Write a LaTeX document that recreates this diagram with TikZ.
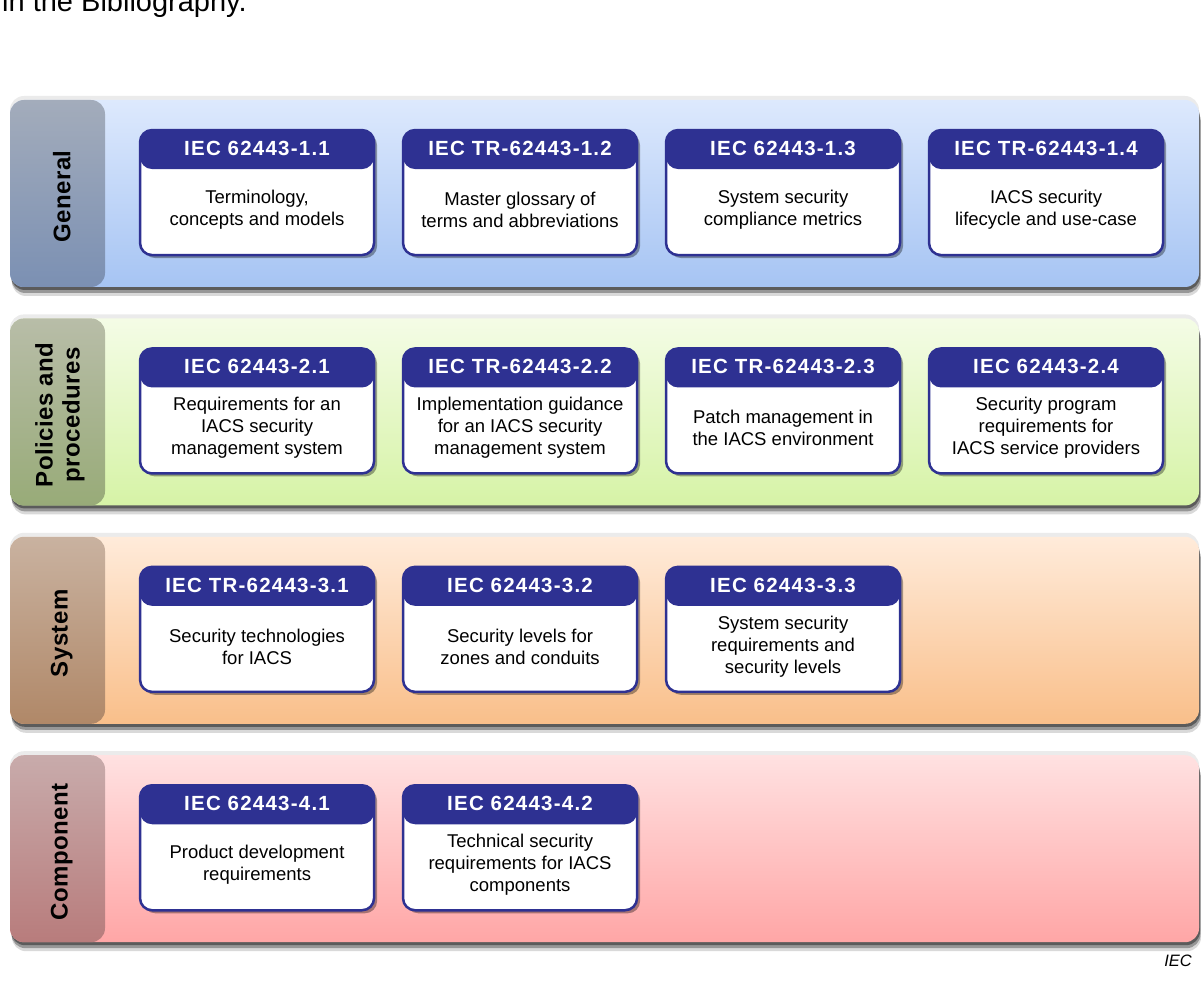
\documentclass[tikz,border=0pt]{standalone}
\usepackage{fontspec}
\setmainfont{Liberation Sans}
\newfontfamily\headfont{Liberation Sans}[LetterSpace=6]
\newfontfamily\bandfont{Liberation Sans}[LetterSpace=2]
\usetikzlibrary{positioning,shadows}

\definecolor{iecblue}{HTML}{2E3192}
\definecolor{gentop}{HTML}{DDE9FD}
\definecolor{genbot}{HTML}{A6C4F3}
\definecolor{gencoltop}{HTML}{A3ACBB}
\definecolor{gencolbot}{HTML}{7B90B3}
\definecolor{poltop}{HTML}{F4FCE6}
\definecolor{polbot}{HTML}{D6F3A6}
\definecolor{polcoltop}{HTML}{B8BDA8}
\definecolor{polcolbot}{HTML}{98AB78}
\definecolor{systop}{HTML}{FFEBDA}
\definecolor{sysbot}{HTML}{F9BF8A}
\definecolor{syscoltop}{HTML}{C9B2A0}
\definecolor{syscolbot}{HTML}{B08868}
\definecolor{comtop}{HTML}{FFE1E1}
\definecolor{combot}{HTML}{FFA6A6}
\definecolor{comcoltop}{HTML}{C8ABAB}
\definecolor{comcolbot}{HTML}{B87C7C}

\tikzset{
  band/.style n args={4}{minimum width=1189pt, minimum height=187pt, inner sep=0pt,
    rounded corners=14pt, top color=#1, bottom color=#2,
    drop shadow={shadow xshift=0pt,shadow yshift=4pt,opacity=.08,fill=black},
    drop shadow={shadow xshift=2pt,shadow yshift=-9pt,opacity=.15,fill=black},
    drop shadow={shadow xshift=1.5pt,shadow yshift=-6pt,opacity=.3,fill=black},
    drop shadow={shadow xshift=1pt,shadow yshift=-3pt,opacity=.4,fill=black},
    path picture={\shade[top color=#3,bottom color=#4] (path picture bounding box.north west)
      rectangle ([xshift=95pt]path picture bounding box.south west);}},
  bandlabel/.style={rotate=90, align=center, inner sep=0pt,
    font=\bandfont\bfseries\fontsize{24}{27}\selectfont},
  boxframe/.style={draw=iecblue, line width=2.5pt, fill=white, rounded corners=12pt,
    minimum width=234pt, minimum height=125pt, inner sep=0pt,
    drop shadow={shadow xshift=3pt,shadow yshift=-3pt,opacity=.35,fill=black},
    path picture={\fill[iecblue] (path picture bounding box.north west)
      rectangle ([yshift=-39pt]path picture bounding box.north east);}},
  boxhead/.style={text=white, inner sep=0pt, font=\headfont\bfseries\fontsize{20.5}{24}\selectfont},
  boxtext/.style={align=center, inner sep=0pt, font=\fontsize{18.5}{22}\selectfont},
}

%% one part of the series: name, placement, number, title
\newcommand\iecbox[4]{%
  \node[boxframe,#2] (#1) {};
  \node[boxhead] (#1h) at ([yshift=-19.5pt]#1.north) {#3};
  \node[boxtext] (#1t) at ([yshift=-81pt]#1.north) {#4};}

\begin{document}
\begin{tikzpicture}[x=1pt,y=-1pt]
  \useasboundingbox (0,0) rectangle (1201,981);
  \node[anchor=base west, inner sep=0pt, font=\fontsize{29}{32}\selectfont] (prev) at (2,12) {in the Bibliography.};

  %% the four groups
  \node[band={gentop}{genbot}{gencoltop}{gencolbot}] (general) at (604.5,193.5) {};
  \node[band={poltop}{polbot}{polcoltop}{polcolbot}, below=31pt of general] (policies) {};
  \node[band={systop}{sysbot}{syscoltop}{syscolbot}, below=31pt of policies] (system) {};
  \node[band={comtop}{combot}{comcoltop}{comcolbot}, below=31pt of system] (component) {};

  \node[bandlabel] (generalL) at ([xshift=52pt,yshift=-3pt]general.west) {General};
  \node[bandlabel] (policiesL) at ([xshift=50pt,yshift=-3pt]policies.west) {Policies and\\procedures};
  \node[bandlabel] (systemL) at ([xshift=52pt,yshift=-3pt]system.west) {System};
  \node[bandlabel] (componentL) at ([xshift=52pt,yshift=-3pt]component.west) {Component};

  %% General
  \iecbox{b11}{below right=29pt and 129pt of general.north west}{IEC 62443-1.1}{Terminology,\\concepts and models}
  \iecbox{b12}{right=26.5pt of b11}{IEC TR-62443-1.2}{Master glossary of\\terms and abbreviations}
  \iecbox{b13}{right=26.5pt of b12}{IEC 62443-1.3}{System security\\compliance metrics}
  \iecbox{b14}{right=26.5pt of b13}{IEC TR-62443-1.4}{IACS security\\lifecycle and use-case}

  %% Policies and procedures
  \iecbox{b21}{below right=29pt and 129pt of policies.north west}{IEC 62443-2.1}{Requirements for an\\IACS security\\management system}
  \iecbox{b22}{right=26.5pt of b21}{IEC TR-62443-2.2}{Implementation guidance\\for an IACS security\\management system}
  \iecbox{b23}{right=26.5pt of b22}{IEC TR-62443-2.3}{Patch management in\\the IACS environment}
  \iecbox{b24}{right=26.5pt of b23}{IEC 62443-2.4}{Security program\\requirements for\\IACS service providers}

  %% System
  \iecbox{b31}{below right=29pt and 129pt of system.north west}{IEC TR-62443-3.1}{Security technologies\\for IACS}
  \iecbox{b32}{right=26.5pt of b31}{IEC 62443-3.2}{Security levels for\\zones and conduits}
  \iecbox{b33}{right=26.5pt of b32}{IEC 62443-3.3}{System security\\requirements and\\security levels}

  %% Component
  \iecbox{b41}{below right=29pt and 129pt of component.north west}{IEC 62443-4.1}{Product development\\requirements}
  \iecbox{b42}{right=26.5pt of b41}{IEC 62443-4.2}{Technical security\\requirements for IACS\\components}

  \node[anchor=base east, inner sep=0pt, font=\itshape\fontsize{16.5}{20}\selectfont] (iec) at (1192,966) {IEC};
\end{tikzpicture}
\end{document}
